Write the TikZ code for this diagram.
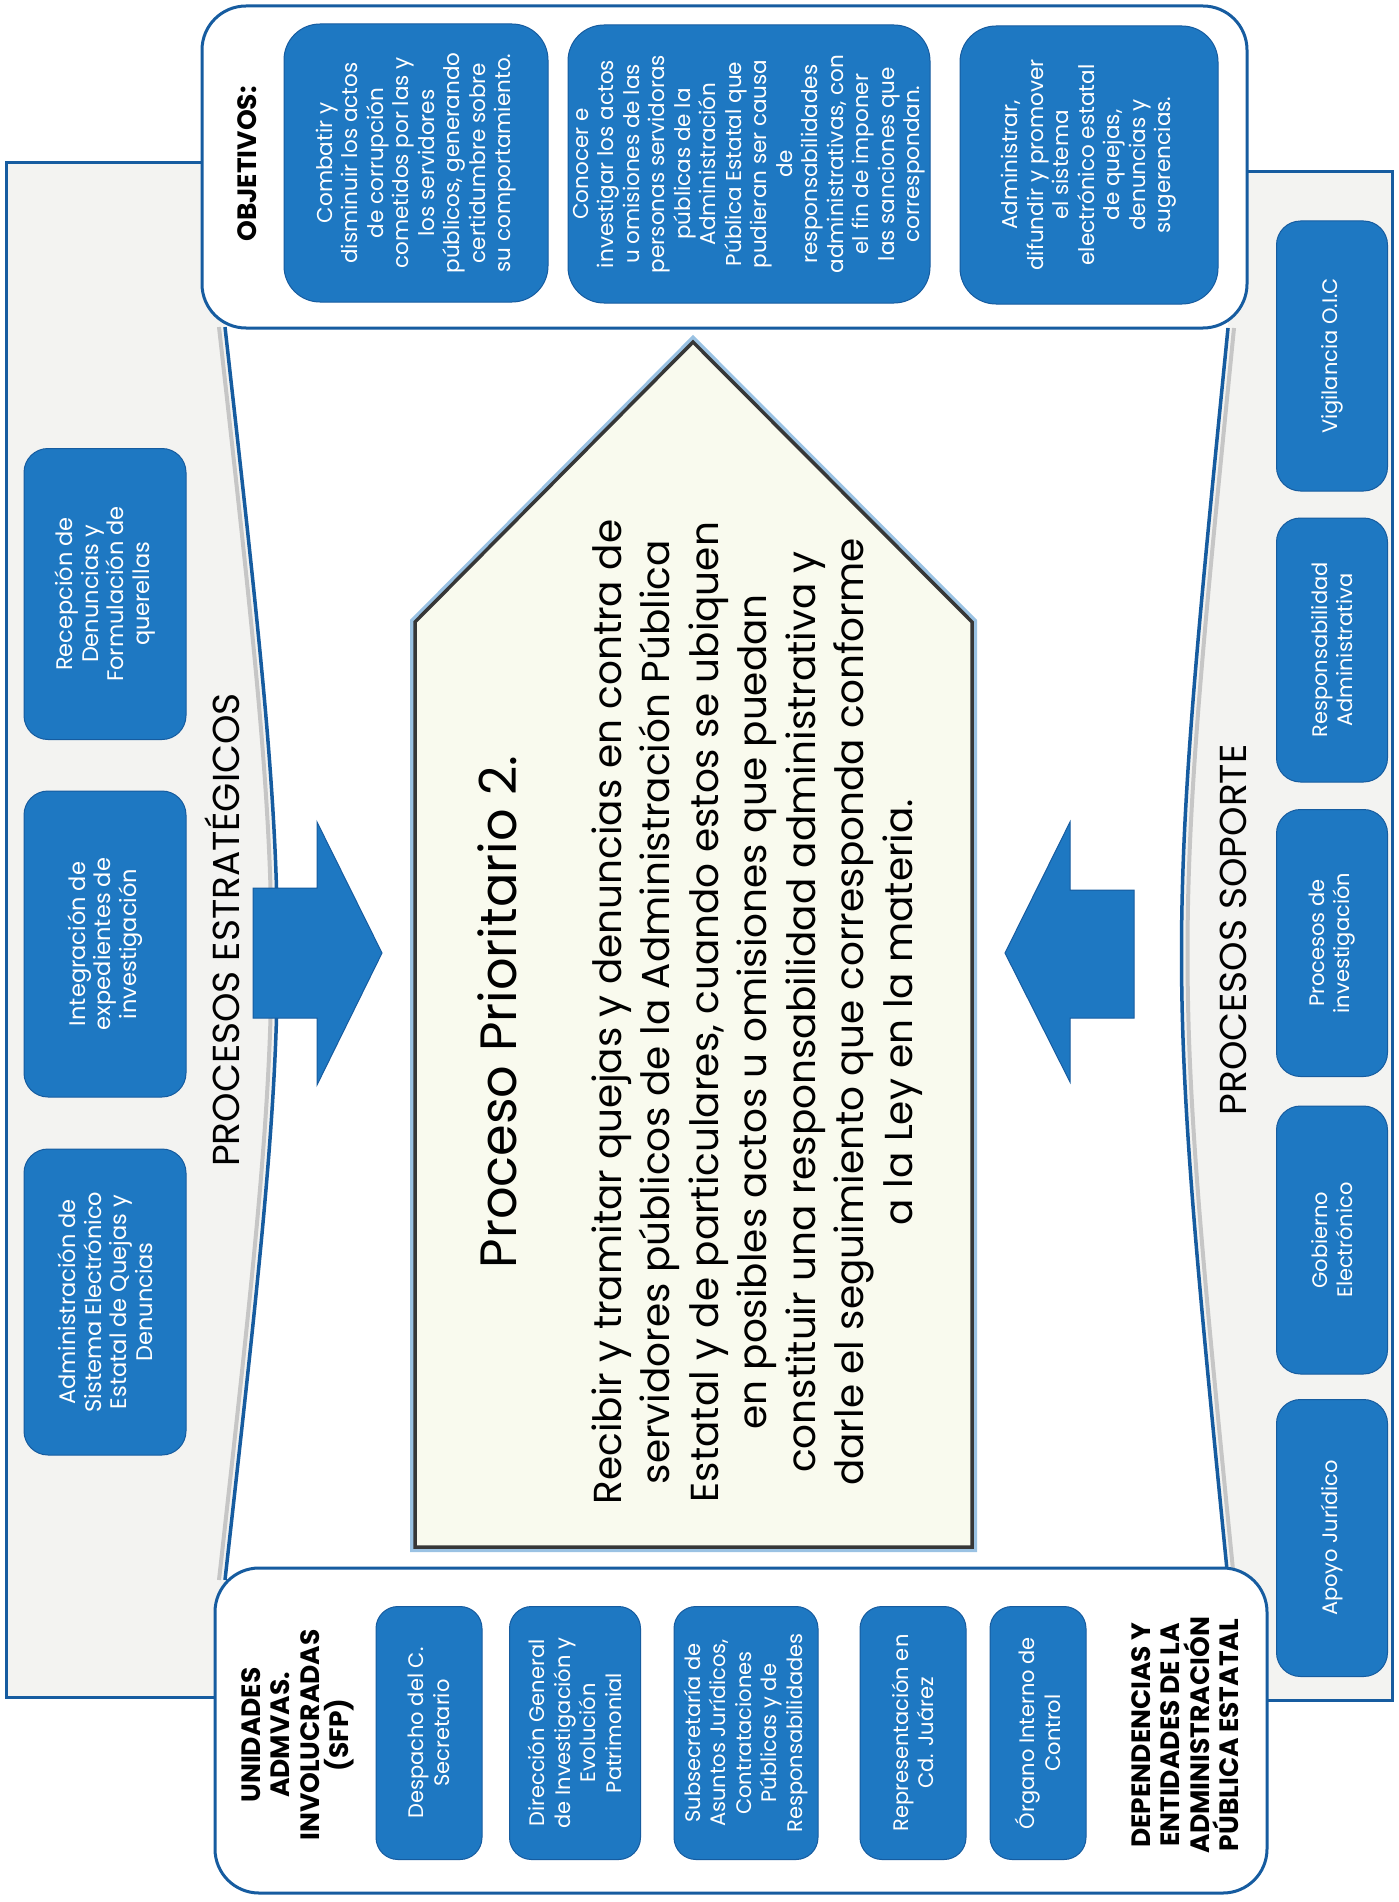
\documentclass[tikz,border=0pt]{standalone}
\usepackage{fontspec}
\setmainfont{Poppins}
\usepackage{tikz}
\usetikzlibrary{positioning}
\definecolor{boxblue}{RGB}{30,120,194}
\definecolor{edgeblue}{RGB}{22,92,160}
\definecolor{panelgray}{RGB}{243,243,241}
\definecolor{creamfill}{RGB}{249,250,238}
\definecolor{darkline}{RGB}{55,55,55}
\tikzset{
  blue-box/.style={draw=edgeblue, line width=1pt, fill=boxblue, rounded corners=24pt,
    text=white, align=center, rotate=90, inner sep=2pt,
    font=\fontsize{22.5}{25.5}\selectfont},
  goal-box/.style={blue-box, rounded corners=36pt, font=\fontsize{21.5}{25.5}\selectfont},
  unit-box/.style={blue-box, rounded corners=22pt, font=\fontsize{21}{25.5}\selectfont},
  side-box/.style={blue-box, font=\fontsize{21}{25.5}\selectfont},
  panel-box/.style={draw=edgeblue, line width=3pt, fill=white, rounded corners=44pt},
  side-panel/.style={draw=edgeblue, line width=3pt, fill=panelgray},
  section-label/.style={rotate=90, align=center, font=\fontsize{37.5}{42}\selectfont},
  head-label/.style={rotate=90, align=center, font=\bfseries\fontsize{26.5}{29.5}\selectfont},
  block-arrow/.style={fill=boxblue, draw=edgeblue, line width=1pt}
}

\begin{document}
\begin{tikzpicture}[x=1pt, y=-1pt]
\useasboundingbox (0,0) rectangle (1398,1902);

% side panels behind everything
\draw[side-panel] (6,163) rectangle (430,1697);
\draw[side-panel] (970,172) rectangle (1392,1700);

% white centre with curved sides
\fill[white] (225,300) -- (225,327) .. controls (295,953) .. (225,1580) -- (1228,1580)
  .. controls (1166,953) .. (1228,328) -- (1228,300) -- cycle;
\draw[gray!45, line width=4pt] (219,327) .. controls (289,953) .. (219,1580);
\draw[gray!45, line width=4pt] (1234,328) .. controls (1172,953) .. (1234,1580);
\draw[edgeblue, line width=3.5pt] (225,327) .. controls (295,953) .. (225,1580);
\draw[edgeblue, line width=3.5pt] (1228,328) .. controls (1166,953) .. (1228,1580);

% objectives panel
\draw[panel-box] (202,6) rectangle (1247,328);
\node[head-label] (objlabel) at (247,164) {OBJETIVOS:};
\node[goal-box, minimum width=278pt, minimum height=264pt] (goal1) at (416,163)
  {Combatir y\\disminuir los actos\\de corrupción\\cometidos por las y\\los servidores\\públicos, generando\\certidumbre sobre\\su comportamiento.};
\node[goal-box, minimum width=278pt, minimum height=362pt, inner sep=0pt] (goal2) at (749,164)
  {Conocer e\\investigar los actos\\u omisiones de las\\personas servidoras\\públicas de la\\Administración\\Pública Estatal que\\pudieran ser causa\\de\\responsabilidades\\administrativas, con\\el fin de imponer\\las sanciones que\\correspondan.};
\node[goal-box, minimum width=278pt, minimum height=258pt] (goal3) at (1089,165)
  {Administrar,\\difundir y promover\\el sistema\\electrónico estatal\\de quejas,\\denuncias y\\sugerencias.};

% strategic processes (left)
\node[blue-box, minimum width=291pt, minimum height=162pt] (recep) at (105,594)
  {Recepción de\\Denuncias y\\Formulación de\\querellas};
\node[blue-box, minimum width=306pt, minimum height=162pt] (integ) at (105,944)
  {Integración de\\expedientes de\\investigación};
\node[blue-box, minimum width=306pt, minimum height=162pt] (admin) at (105,1302)
  {Administración de\\Sistema Electrónico\\Estatal de Quejas y\\Denuncias};
\node[section-label] (estrat) at (222,930) {PROCESOS ESTRATÉGICOS};

% support processes (right)
\node[side-box, minimum width=270pt, minimum height=111pt] (vigil) at (1332,356) {Vigilancia O.I.C};
\node[side-box, minimum width=264pt, minimum height=111pt] (respon) at (1332,650) {Responsabilidad\\Administrativa};
\node[side-box, minimum width=267pt, minimum height=111pt] (invest) at (1332,943) {Procesos de\\investigación};
\node[side-box, minimum width=268pt, minimum height=111pt] (gobier) at (1332,1240) {Gobierno\\Electrónico};
\node[side-box, minimum width=277pt, minimum height=111pt] (apoyo) at (1332,1538) {Apoyo Jurídico};
\node[section-label] (soporte) at (1233,930) {PROCESOS SOPORTE};

% units panel
\draw[panel-box] (215,1568) rectangle (1267,1893);
\node[head-label] (unidades) at (298,1735) {UNIDADES\\ADMVAS.\\INVOLUCRADAS\\(SFP)};
\node[unit-box, minimum width=253pt, minimum height=106pt] (despacho) at (429,1733) {Despacho del C.\\Secretario};
\node[unit-box, minimum width=253pt, minimum height=131pt] (direccion) at (575,1733) {Dirección General\\de Investigación y\\Evolución\\Patrimonial};
\node[unit-box, minimum width=253pt, minimum height=144pt, inner sep=0pt] (subsec) at (746,1733) {Subsecretaría de\\Asuntos Jurídicos,\\Contrataciones\\Públicas y de\\Responsabilidades};
\node[unit-box, minimum width=253pt, minimum height=106pt] (juarez) at (913,1733) {Representación en\\Cd. Juárez};
\node[unit-box, minimum width=253pt, minimum height=96pt] (organo) at (1038,1733) {Órgano Interno de\\Control};
\node[head-label] (dependencias) at (1185,1735) {DEPENDENCIAS Y\\ENTIDADES DE LA\\ADMINISTRACIÓN\\PÚBLICA ESTATAL};

% priority process (house shape)
\coordinate (apex) at (693,342);
\coordinate (lshoulder) at (415,622);
\coordinate (rshoulder) at (972,622);
\coordinate (rfoot) at (972,1547);
\coordinate (lfoot) at (415,1547);
\draw[boxblue!45, line width=10pt, line join=miter] (lfoot) -- (lshoulder) -- (apex) -- (rshoulder) -- (rfoot) -- cycle;
\draw[darkline, line width=3.5pt, fill=creamfill, line join=miter] (lfoot) -- (lshoulder) -- (apex) -- (rshoulder) -- (rfoot) -- cycle;
\node[rotate=90, font=\fontsize{51}{56}\selectfont] (prio) at (497,1012) {Proceso Prioritario 2.};
\node[rotate=90, align=center, font=\fontsize{39}{48.5}\selectfont] (prioText) at (757,1012)
  {Recibir y tramitar quejas y denuncias en contra de\\servidores públicos de la Administración Pública\\Estatal y de particulares, cuando estos se ubiquen\\en posibles actos u omisiones que puedan\\constituir una responsabilidad administrativa y\\darle el seguimiento que corresponda conforme\\a la Ley en la materia.};

% block arrows into the priority process
\draw[block-arrow] (253,888) -- (317,888) -- (317,822) -- (382,953) -- (317,1085) -- (317,1018) -- (253,1018) -- cycle;
\draw[block-arrow] (1134,890) -- (1070,890) -- (1070,822) -- (1005,953) -- (1070,1082) -- (1070,1018) -- (1134,1018) -- cycle;
\end{tikzpicture}
\end{document}
